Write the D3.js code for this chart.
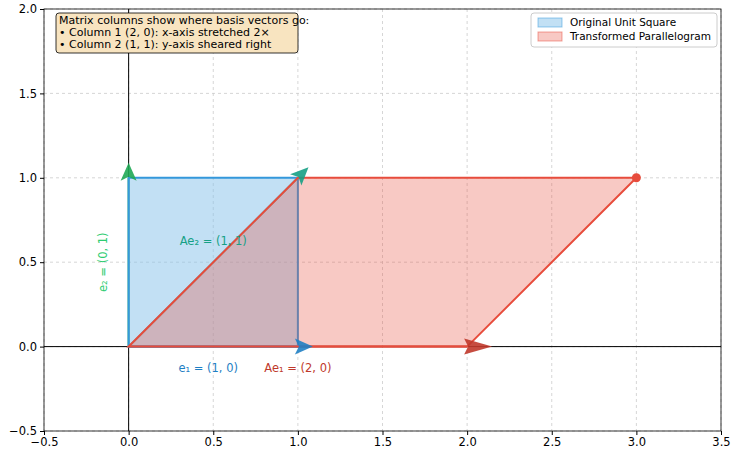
<!DOCTYPE html>
<html><head><meta charset="utf-8">
<script src="https://cdn.jsdelivr.net/npm/d3@7"></script>
<style>body{margin:0;background:#fff}text{font-family:"DejaVu Sans",sans-serif}</style>
</head><body><svg id="c" width="738" height="457"></svg>
<script>
// data
const unitSquare = [[0,0],[1,0],[1,1],[0,1]];
const parallelogram = [[0,0],[2,0],[3,1],[1,1]];
const xTicks = [-0.5,0,0.5,1,1.5,2,2.5,3,3.5];
const yTicks = [-0.5,0,0.5,1,1.5,2];
const vectors = [
  {name:"e1", to:[1,0], colour:"#1f7fc4", head:18},
  {name:"e2", to:[0,1], colour:"#1fa855", head:18},
  {name:"Ae1", to:[2,0], colour:"#c0392b", head:28},
  {name:"Ae2", to:[1,1], colour:"#16a085", head:18}
];
const labels = [
  {t:"e\u2081 = (1, 0)", at:[0.47,-0.13], colour:"#1f7fc4", rot:false},
  {t:"Ae\u2081 = (2, 0)", at:[1.0,-0.13], colour:"#c0392b", rot:false},
  {t:"Ae\u2082 = (1, 1)", at:[0.5,0.62], colour:"#16a085", rot:false},
  {t:"e\u2082 = (0, 1)", at:[-0.15,0.5], colour:"#2ecc71", rot:true}
];
const noteLines = ["Matrix columns show where basis vectors go:",
  "\u2022 Column 1 (2, 0): x-axis stretched 2\u00d7",
  "\u2022 Column 2 (1, 1): y-axis sheared right"];
const legendItems = [
  {t:"Original Unit Square", fill:"#85c1e9", stroke:"#3498db"},
  {t:"Transformed Parallelogram", fill:"#f1948a", stroke:"#e74c3c"}
];

const svg = d3.select("#c");
const L=44, R=721, T=9, B=431;
const x = d3.scaleLinear().domain([-0.5,3.5]).range([L,R]);
const y = d3.scaleLinear().domain([-0.5,2]).range([B,T]);

// grid
svg.append("g").selectAll("line").data(xTicks).join("line")
  .attr("x1",d=>x(d)).attr("x2",d=>x(d)).attr("y1",T).attr("y2",B)
  .attr("stroke","#ccc").attr("stroke-dasharray","3,3").attr("stroke-width",0.8);
svg.append("g").selectAll("line").data(yTicks).join("line")
  .attr("y1",d=>y(d)).attr("y2",d=>y(d)).attr("x1",L).attr("x2",R)
  .attr("stroke","#ccc").attr("stroke-dasharray","3,3").attr("stroke-width",0.8);

// axis lines through origin
svg.append("line").attr("x1",L).attr("x2",R).attr("y1",y(0)).attr("y2",y(0)).attr("stroke","#000").attr("stroke-width",1);
svg.append("line").attr("x1",x(0)).attr("x2",x(0)).attr("y1",T).attr("y2",B).attr("stroke","#000").attr("stroke-width",1);

const line = d3.line().x(d=>x(d[0])).y(d=>y(d[1]));
// arrow shafts (under the shapes)
vectors.forEach(v=>{
  svg.append("line").attr("x1",x(0)).attr("y1",y(0)).attr("x2",x(v.to[0])).attr("y2",y(v.to[1]))
    .attr("stroke",v.colour).attr("stroke-width",2);
});
svg.append("path").attr("d",line(unitSquare)+"Z")
  .attr("fill","#85c1e9").attr("fill-opacity",0.5).attr("stroke","#3498db").attr("stroke-width",2);
svg.append("path").attr("d",line(parallelogram)+"Z")
  .attr("fill","#e74c3c").attr("fill-opacity",0.3).attr("stroke","#e74c3c").attr("stroke-width",2);
svg.append("circle").attr("cx",x(3)).attr("cy",y(1)).attr("r",4.5).attr("fill","#e74c3c");

// arrow heads
vectors.forEach(v=>{
  const x0=x(0), y0=y(0), x1=x(v.to[0]), y1=y(v.to[1]);
  const len=Math.hypot(x1-x0,y1-y0), ux=(x1-x0)/len, uy=(y1-y0)/len;
  const h=v.head, w=8, bx=x1-ux*3, by=y1-uy*3;
  const tip=[bx+ux*h, by+uy*h];
  svg.append("path").attr("d",`M${tip[0]},${tip[1]}L${bx-uy*w},${by+ux*w}L${bx+ux*4},${by+uy*4}L${bx+uy*w},${by-ux*w}Z`)
    .attr("fill",v.colour).attr("opacity",0.9);
});

// labels
labels.forEach(l=>{
  const t=svg.append("text").attr("fill",l.colour).attr("font-size",11.5).attr("text-anchor","middle")
    .attr("dominant-baseline","middle").text(l.t);
  if(l.rot) t.attr("transform",`translate(${x(l.at[0])},${y(l.at[1])}) rotate(-90)`);
  else t.attr("x",x(l.at[0])).attr("y",y(l.at[1]));
});

// frame and ticks
svg.append("rect").attr("x",L).attr("y",T).attr("width",R-L).attr("height",B-T)
  .attr("fill","none").attr("stroke","#000").attr("stroke-width",0.8);
const ax = svg.append("g").attr("transform",`translate(0,${B})`)
  .call(d3.axisBottom(x).tickValues(xTicks).tickFormat(d3.format(".1f")).tickSize(4).tickPadding(3));
const ay = svg.append("g").attr("transform",`translate(${L},0)`)
  .call(d3.axisLeft(y).tickValues(yTicks).tickFormat(d3.format(".1f")).tickSize(4).tickPadding(3));
[ax,ay].forEach(a=>{a.select(".domain").remove();a.selectAll("text").attr("font-size",11.5).attr("fill","#000").attr("font-family","DejaVu Sans");});

// note box
const nb = svg.append("g");
nb.append("rect").attr("x",56).attr("y",13).attr("width",242).attr("height",40).attr("rx",3)
  .attr("fill","#f8e4c0").attr("stroke","#000").attr("stroke-width",0.8);
noteLines.forEach((s,i)=>nb.append("text").attr("x",59).attr("y",21+i*12).attr("font-size",11).attr("fill","#000").attr("dominant-baseline","middle").text(s));

// legend
const lg = svg.append("g");
lg.append("rect").attr("x",531).attr("y",13).attr("width",186).attr("height",34).attr("rx",3)
  .attr("fill","#fff").attr("stroke","#ccc");
legendItems.forEach((d,i)=>{
  lg.append("rect").attr("x",538).attr("y",18+i*14).attr("width",24).attr("height",9)
    .attr("fill",d.fill).attr("fill-opacity",0.5).attr("stroke",d.stroke).attr("stroke-opacity",0.5);
  lg.append("text").attr("x",570).attr("y",23+i*14).attr("font-size",10.5).attr("dominant-baseline","middle").text(d.t);
});
</script></body></html>
